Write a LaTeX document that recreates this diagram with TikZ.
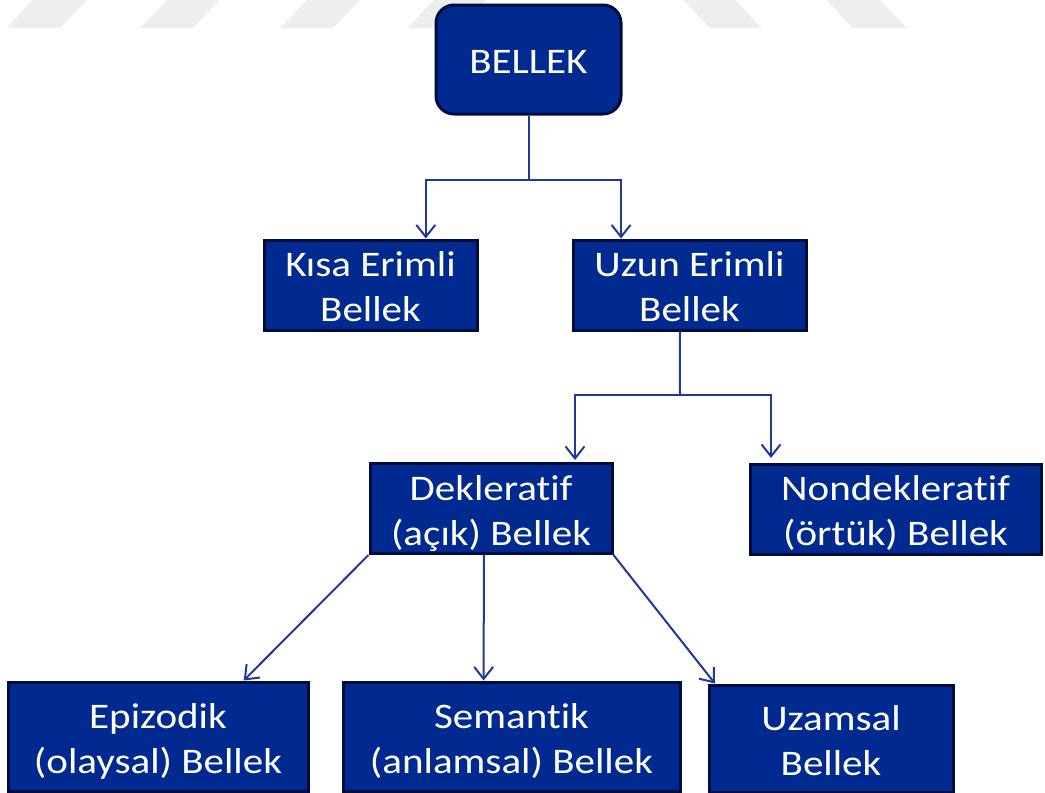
\documentclass[tikz,border=0pt]{standalone}
\usepackage{fontspec}
\setmainfont{Carlito}[Ligatures=NoCommon]
\usetikzlibrary{arrows.meta,calc}
\definecolor{boxblue}{RGB}{0,42,143}
\definecolor{boxline}{RGB}{0,12,64}
\definecolor{arrcol}{RGB}{32,56,158}
\definecolor{wm}{RGB}{238,238,238}
\newcommand{\btext}[1]{\raisebox{-5pt}[\height][\depth]{\scalebox{1.14}[1]{\begin{tabular}{@{}c@{}}#1\end{tabular}}}}
\begin{document}
\begin{tikzpicture}[x=1pt,y=-1pt,
  box/.style={draw=boxline, line width=3pt, fill=boxblue, text=white, inner sep=0pt,
    font=\fontsize{36}{45}\selectfont},
  conn/.style={draw=arrcol, line width=2pt},
  arr/.style={conn, -{Straight Barb[length=12pt,width=19pt,line width=2pt]}},
  wmark/.style={fill=wm, draw=none}]
\useasboundingbox (0,0) rectangle (1045,793);
% watermark stripes
\fill[wmark] (7,28) -- (60,28) -- (87,0) -- (32,0) -- cycle;
\fill[wmark] (140,28) -- (193,28) -- (220,0) -- (167,0) -- cycle;
\fill[wmark] (280,28) -- (333,28) -- (360,0) -- (307,0) -- cycle;
\fill[wmark] (407,28) -- (460,28) -- (487,0) -- (434,0) -- cycle;
\fill[wmark] (710,28) -- (762,28) -- (735,0) -- (683,0) -- cycle;
\fill[wmark] (853,28) -- (907,28) -- (880,0) -- (826,0) -- cycle;
% nodes
\node[box, rounded corners=18pt, minimum width=185pt, minimum height=109pt] (bellek) at (528.5,59.5) {\btext{BELLEK}};
\node[box, minimum width=213pt, minimum height=80pt] (kisa) at (370.5,285) {\btext{Kısa Erimli\\Bellek}};
\node[box, minimum width=233pt, minimum height=80pt] (uzun) at (689.5,285) {\btext{Uzun Erimli\\Bellek}};
\node[box, minimum width=242pt, minimum height=79pt] (dek) at (491,508.5) {\btext{Dekleratif\\(açık) Bellek}};
\node[box, minimum width=291pt, minimum height=80pt] (non) at (895.5,509) {\btext{Nondekleratif\\(örtük) Bellek}};
\node[box, minimum width=300pt, minimum height=109pt] (epi) at (158,736.5) {\btext{Epizodik\\(olaysal) Bellek}};
\node[box, minimum width=337pt, minimum height=109pt] (sem) at (511.5,736.5) {\btext{Semantik\\(anlamsal) Bellek}};
\node[box, minimum width=244pt, minimum height=107pt] (uza) at (831,738.5) {\btext{Uzamsal\\Bellek}};
% connectors level 1
\coordinate (b1) at (528.5,180);
\coordinate (kisaT) at ($(kisa.north west)!0.756!(kisa.north east)$);
\coordinate (uzunT) at ($(uzun.north west)!0.21!(uzun.north east)$);
\draw[conn] (bellek.south) -- (b1);
\draw[arr] (b1) -| (kisaT);
\draw[arr] (b1) -| (uzunT);
% connectors level 2
\coordinate (u0) at ($(uzun.south west)!0.459!(uzun.south east)$);
\coordinate (u1) at (680,395);
\coordinate (dekT) at (575,460);
\coordinate (nonT) at (771,458);
\draw[conn] (u0) -- (u1);
\draw[arr] (u1) -| (dekT);
\draw[arr] (u1) -| (nonT);
% connectors level 3
\coordinate (dmid) at ($(dek.south west)!0.471!(dek.south east)$);
\coordinate (epiT) at ($(epi.north west)!0.783!(epi.north east)$);
\coordinate (semT) at ($(sem.north west)!0.418!(sem.north east)$);
\coordinate (uzaT) at ($(uza.north west)!0.03!(uza.north east)$);
\draw[arr] (dek.south west) -- (epiT);
\draw[arr] (dmid) -- (semT);
\draw[arr] (dek.south east) -- (uzaT);
\end{tikzpicture}
\end{document}
